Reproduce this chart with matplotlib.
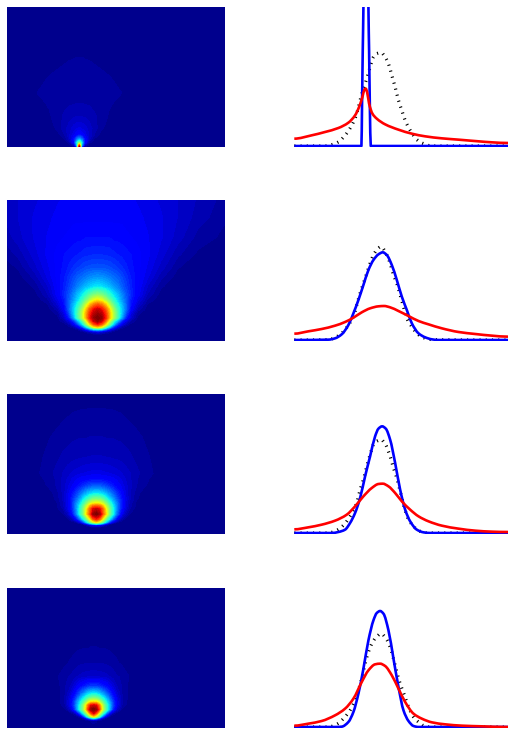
import numpy as np
import matplotlib
matplotlib.use("Agg")
import matplotlib.pyplot as plt
from matplotlib.patches import PathPatch
from matplotlib.path import Path

W, H = 508, 731
panel_tops = [7, 200, 394, 588]
panel_heights = [140, 141, 140, 140]
color_steps = 64

# ---------- curves (axis units: x 0..640, y from 0) ----------
blue_x_1 = [0,201,203,205,207,210,215,220,222,224,226,229,640]
blue_y_1 = [0,0,137,287,416,800,1400,800,416,287,137,0,0]
red_x_1 = [0,52,92,132,162,182,194,204,210,214,218,224,234,247,272,312,352,392,442,492,552,592,640]
red_y_1 = [22,32,42,54,70,92,117,147,169,172,162,127,97,82,65,49,37,29,23,19,14,11,9]
black_x_1 = [0,92,112,132,152,172,187,197,207,217,227,237,247,260,272,282,292,302,312,322,332,347,367,387,412,640]
black_y_1 = [0,0,4,12,32,62,97,137,172,202,237,267,277,280,267,247,212,177,137,107,77,47,19,7,0,0]

blue_x_2 = [0,102,122,142,162,177,192,207,222,237,252,265,277,292,307,322,337,352,372,392,412,432,640]
blue_y_2 = [0,1,5,17,45,80,120,165,210,240,257,263,255,225,180,130,90,50,20,8,2,0,0]
red_x_2 = [0,42,82,122,152,177,202,227,252,269,287,312,342,372,402,442,492,542,592,640]
red_y_2 = [19,26,33,43,54,67,83,95,101,102,98,87,72,57,47,35,24,18,13,10]
black_x_2 = [0,102,127,147,162,177,187,197,207,217,227,237,247,260,272,287,297,307,317,327,337,352,367,387,407,640]
black_y_2 = [0,1,10,25,45,70,105,140,170,200,230,255,270,280,265,230,195,170,135,100,65,40,20,7,1,0]

blue_x_3 = [0,112,132,152,167,182,197,212,227,242,252,263,274,287,302,317,332,347,367,387,407,640]
blue_y_3 = [0,0,3,10,30,60,105,170,230,290,313,320,313,280,210,130,70,35,10,2,0,0]
red_x_3 = [0,42,82,122,157,182,207,232,252,265,282,302,322,347,372,402,442,492,542,592,640]
red_y_3 = [11,17,25,37,55,80,110,135,147,148,140,120,95,70,50,35,22,13,7,4,3]
black_x_3 = [0,102,127,147,167,187,197,207,217,227,237,250,260,272,287,297,307,317,327,340,357,377,402,640]
black_y_3 = [0,0,8,23,50,90,130,160,200,235,265,277,280,267,230,195,165,125,85,45,20,5,0,0]

blue_x_4 = [0,122,142,162,177,192,207,222,237,247,257,267,282,297,312,327,342,357,372,640]
blue_y_4 = [0,0,1,15,45,100,175,260,320,342,348,340,290,205,120,50,18,3,0,0]
red_x_4 = [0,42,82,122,152,177,202,222,242,257,272,292,312,332,357,382,412,452,502,562,640]
red_y_4 = [4,10,18,35,55,85,135,170,188,190,183,155,115,75,40,25,14,8,4,2,0]
black_x_4 = [0,102,127,147,167,182,192,202,212,222,232,244,260,275,287,297,307,317,330,342,357,372,392,412,640]
black_y_4 = [0,0,8,25,50,80,110,145,190,225,250,268,280,265,240,205,165,130,95,60,30,15,2,0,0]

# ---------- heat fields: one half, value per height / offset ----------
center_1 = 217
heights_1 = [0,5,13,23,36,56,91,131,161,211,266,420]
offsets_1 = [0,3,8,16,30,45,65,90,125,160,437]
field_1 = [
    [1.0,.70,.08,.01,.001,0,0,0,0,0,0],
    [.85,.62,.25,.04,.004,0,0,0,0,0,0],
    [.50,.45,.32,.12,.02,.002,0,0,0,0,0],
    [.28,.26,.22,.13,.05,.012,.001,0,0,0,0],
    [.13,.125,.11,.09,.06,.03,.008,0,0,0,0],
    [.08,.08,.075,.07,.055,.04,.02,.006,0,0,0],
    [.047,.047,.047,.045,.04,.034,.025,.013,.002,0,0],
    [.031,.031,.031,.03,.029,.027,.023,.018,.01,.001,0],
    [.025,.025,.025,.025,.024,.023,.022,.02,.016,.006,0],
    [.02,.02,.02,.02,.02,.019,.018,.016,.012,.002,0],
    [.016,.016,.016,.0155,.015,.014,.012,.009,.003,0,0],
    [0,0,0,0,0,0,0,0,0,0,0],
]

center_2 = 272
heights_2 = [0,20,28,35,42,50,60,70,82,95,110,123,140,163,190,220,260,310,370,423]
offsets_2 = [0,12,24,36,48,60,72,85,100,120,150,190,240,300,400]
field_2 = [
    [0,0,0,0,0,0,0,0,0,0,0,0,0,0,0],
    [.01,.008,.004,.001,0,0,0,0,0,0,0,0,0,0,0],
    [.09,.08,.05,.025,.008,.002,0,0,0,0,0,0,0,0,0],
    [.35,.32,.22,.13,.06,.02,.005,0,0,0,0,0,0,0,0],
    [.68,.62,.45,.30,.16,.08,.03,.008,.001,0,0,0,0,0,0],
    [.87,.80,.65,.47,.30,.17,.09,.035,.008,.001,0,0,0,0,0],
    [.97,.92,.78,.58,.40,.28,.16,.08,.03,.006,0,0,0,0,0],
    [1.0,.97,.87,.70,.55,.42,.28,.15,.06,.01,.001,0,0,0,0],
    [.97,.94,.85,.70,.55,.43,.31,.19,.08,.02,.003,0,0,0,0],
    [.93,.89,.80,.66,.52,.41,.32,.22,.11,.04,.006,0,0,0,0],
    [.80,.76,.68,.56,.45,.37,.30,.22,.13,.065,.014,.001,0,0,0],
    [.65,.62,.55,.47,.39,.33,.27,.21,.14,.085,.027,.003,0,0,0],
    [.50,.48,.44,.39,.34,.30,.25,.20,.155,.105,.045,.007,0,0,0],
    [.35,.34,.32,.30,.27,.245,.21,.18,.145,.11,.06,.018,.002,0,0],
    [.27,.265,.255,.24,.225,.21,.19,.165,.14,.115,.08,.035,.006,0,0],
    [.20,.198,.195,.19,.18,.17,.16,.145,.13,.115,.09,.055,.017,.002,0],
    [.155,.155,.152,.15,.145,.14,.135,.13,.125,.115,.098,.07,.035,.012,0],
    [.125,.125,.125,.125,.12,.12,.118,.115,.11,.105,.095,.08,.055,.025,.008],
    [.105,.105,.105,.105,.105,.105,.105,.10,.10,.098,.09,.08,.062,.04,.014],
    [.10,.10,.10,.10,.10,.10,.10,.098,.096,.092,.085,.075,.062,.045,.02],
]

center_3 = 268
heights_3 = [0,20,27,30,35,45,60,75,85,92,105,122,145,165,182,232,292,372,420]
offsets_3 = [0,10,20,30,40,50,60,72,85,100,120,145,175,240,400]
field_3 = [
    [0,0,0,0,0,0,0,0,0,0,0,0,0,0,0],
    [.01,.006,.002,0,0,0,0,0,0,0,0,0,0,0,0],
    [.13,.11,.07,.03,.008,.001,0,0,0,0,0,0,0,0,0],
    [.35,.30,.20,.10,.03,.007,.001,0,0,0,0,0,0,0,0],
    [.65,.56,.44,.30,.16,.07,.02,.005,0,0,0,0,0,0,0],
    [.87,.80,.62,.46,.34,.22,.12,.05,.015,.002,0,0,0,0,0],
    [1.0,.96,.80,.65,.48,.37,.24,.12,.05,.015,.002,0,0,0,0],
    [.93,.90,.78,.62,.48,.37,.26,.15,.08,.03,.007,.001,0,0,0],
    [.78,.76,.68,.56,.44,.35,.26,.16,.09,.04,.012,.002,0,0,0],
    [.65,.63,.58,.49,.40,.32,.25,.16,.09,.04,.012,.002,0,0,0],
    [.50,.49,.45,.39,.33,.27,.21,.15,.09,.05,.018,.004,0,0,0],
    [.35,.34,.32,.29,.25,.21,.17,.13,.085,.05,.022,.006,.001,0,0],
    [.20,.20,.19,.175,.155,.135,.115,.095,.073,.052,.032,.017,.007,0,0],
    [.12,.12,.115,.11,.105,.10,.09,.08,.065,.05,.033,.02,.01,0,0],
    [.085,.085,.082,.08,.078,.074,.07,.065,.057,.048,.036,.024,.014,.001,0],
    [.048,.048,.047,.046,.045,.043,.042,.04,.037,.034,.027,.019,.012,.001,0],
    [.031,.031,.031,.03,.03,.03,.029,.028,.026,.023,.019,.014,.006,0,0],
    [.0165,.0165,.0165,.016,.016,.0155,.015,.014,.012,.01,.007,.004,.002,0,0],
    [.008,.008,.008,.008,.007,.007,.006,.006,.005,.004,.003,.001,0,0,0],
]

center_4 = 260
heights_4 = [0,23,29,34,44,56,68,79,91,104,126,155,195,240,420]
offsets_4 = [0,8,16,24,32,40,48,58,70,85,105,125,160,400]
field_4 = [
    [0,0,0,0,0,0,0,0,0,0,0,0,0,0],
    [.03,.02,.01,.003,0,0,0,0,0,0,0,0,0,0],
    [.35,.28,.18,.08,.025,.005,0,0,0,0,0,0,0,0],
    [.65,.55,.42,.26,.12,.04,.01,.001,0,0,0,0,0,0],
    [.90,.80,.62,.47,.34,.20,.10,.03,.005,0,0,0,0,0],
    [1.0,.97,.85,.65,.50,.40,.29,.15,.06,.013,.001,0,0,0],
    [.92,.90,.78,.62,.49,.39,.30,.18,.09,.03,.005,0,0,0],
    [.65,.64,.58,.49,.41,.34,.27,.17,.09,.035,.008,.001,0,0],
    [.48,.47,.43,.38,.33,.27,.21,.14,.08,.035,.01,.002,0,0],
    [.35,.34,.32,.28,.24,.20,.16,.11,.065,.03,.012,.003,0,0],
    [.17,.17,.16,.145,.13,.115,.095,.07,.045,.03,.012,.003,0,0],
    [.058,.058,.056,.055,.053,.05,.046,.04,.032,.03,.016,.004,0,0],
    [.031,.031,.03,.03,.029,.028,.026,.022,.018,.012,.007,.002,0,0],
    [.016,.016,.0155,.015,.015,.014,.013,.011,.009,.006,.003,.001,0,0],
    [0,0,0,0,0,0,0,0,0,0,0,0,0,0],
]

centers = [center_1, center_2, center_3, center_4]
heights = [heights_1, heights_2, heights_3, heights_4]
offsets = [offsets_1, offsets_2, offsets_3, offsets_4]
fields = [field_1, field_2, field_3, field_4]
blues = [(blue_x_1, blue_y_1), (blue_x_2, blue_y_2), (blue_x_3, blue_y_3), (blue_x_4, blue_y_4)]
reds = [(red_x_1, red_y_1), (red_x_2, red_y_2), (red_x_3, red_y_3), (red_x_4, red_y_4)]
blacks = [(black_x_1, black_y_1), (black_x_2, black_y_2), (black_x_3, black_y_3), (black_x_4, black_y_4)]


def smooth_path(xs, ys):
    """A Bezier path through the read points, with monotone tangents."""
    x = np.array(xs, float)
    y = np.array(ys, float)
    h = np.diff(x)
    s = np.diff(y) / h
    m = np.zeros_like(y)
    for k in range(1, len(x) - 1):
        if s[k - 1] * s[k] > 0:
            a, b = 2 * h[k] + h[k - 1], h[k] + 2 * h[k - 1]
            m[k] = (a + b) / (a / s[k - 1] + b / s[k])
    verts = [(x[0], y[0])]
    codes = [Path.MOVETO]
    for k in range(len(h)):
        verts += [(x[k] + h[k] / 3, y[k] + m[k] * h[k] / 3),
                  (x[k + 1] - h[k] / 3, y[k + 1] - m[k + 1] * h[k] / 3),
                  (x[k + 1], y[k + 1])]
        codes += [Path.CURVE4] * 3
    return Path(verts, codes)


# stepped jet, the banded look of the reference
jet = plt.get_cmap("jet")
band_colors = [jet((k + 0.9) / color_steps) for k in range(color_steps)]
band_levels = np.linspace(0, 1, color_steps + 1)
band_levels[0] = -1e-6

fig = plt.figure(figsize=(W / 100, H / 100), dpi=100, facecolor="white")

for i, top in enumerate(panel_tops):
    ph = panel_heights[i]
    bottom = 1 - (top + ph) / H
    h = ph / H

    ax = fig.add_axes([7 / W, bottom, 218 / W, h])
    d = np.array(offsets[i], float)
    x = np.concatenate([centers[i] - d[::-1], centers[i] + d[1:]])
    z = np.array(fields[i], float)
    z = np.hstack([z[:, ::-1], z[:, 1:]])
    ax.contourf(x, np.array(heights[i], float), z, levels=band_levels,
                colors=band_colors, antialiased=False)
    ax.set_xlim(0, 654)
    ax.set_ylim(0, 3 * ph)
    ax.axis("off")

    ax = fig.add_axes([294.3 / W, bottom, (W - 294.3) / W, h])
    ax.add_patch(PathPatch(smooth_path(*blacks[i]), fill=False, edgecolor="black",
                           lw=2.3, linestyle=(0, (0.35, 1.6)), capstyle="butt"))
    ax.add_patch(PathPatch(smooth_path(*blues[i]), fill=False, edgecolor="#0000ff",
                           lw=1.9, joinstyle="round"))
    ax.add_patch(PathPatch(smooth_path(*reds[i]), fill=False, edgecolor="#ff0000",
                           lw=1.9, joinstyle="round"))
    ax.set_xlim(0, 640)
    ax.set_ylim(-3, 3 * ph - 3)
    ax.axis("off")

fig.savefig("out.png", dpi=100, facecolor="white")
